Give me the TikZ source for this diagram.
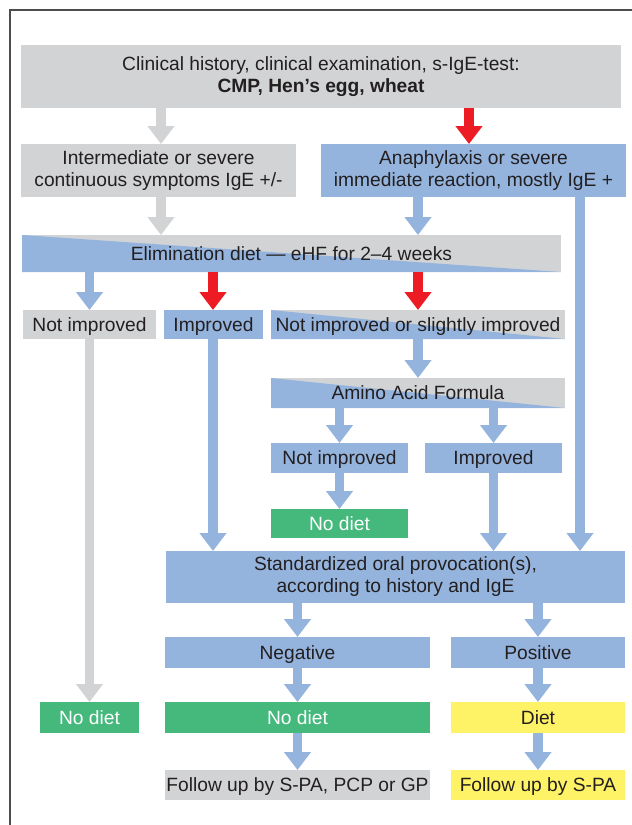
\documentclass[tikz,border=0pt]{standalone}
\usepackage{fontspec}
\setmainfont{Liberation Sans}
\usetikzlibrary{arrows.meta}
\definecolor{cgray}{HTML}{D1D3D4}
\definecolor{cblue}{HTML}{94B4DE}
\definecolor{cgreen}{HTML}{45B97C}
\definecolor{cyellow}{HTML}{FEF266}
\definecolor{cred}{HTML}{ED1C24}
\definecolor{ctext}{HTML}{231F20}
\definecolor{cframe}{HTML}{4D4D4F}
\begin{document}
\begin{tikzpicture}[x=1pt,y=-1pt,
  font=\fontsize{19.2}{22}\selectfont, text=ctext,
  bx/.style={anchor=north west, inner sep=0pt, outer sep=0pt, align=center},
  one/.style={text height=13.8pt, text depth=0pt},
  gbox/.style={bx, fill=cgray},
  bbox/.style={bx, fill=cblue},
  grbox/.style={bx, fill=cgreen, text=white},
  ybox/.style={bx, fill=cyellow},
  split/.style={bx, fill=cgray, path picture={
     \fill[cblue] (path picture bounding box.north west) -- (path picture bounding box.south west) -- (path picture bounding box.south east) -- cycle;}},
  arr/.style={line width=9.5pt, -{Triangle[width=26pt,length=18pt]}},
  garr/.style={arr, color=cgray},
  barr/.style={arr, color=cblue},
  rarr/.style={arr, color=cred}
]
\useasboundingbox (0,0) rectangle (632,825);
\draw[line width=2pt, cframe] (9.5,825) -- (9.5,10) -- (632,10);

% column coordinates
\coordinate (xa) at (161,0);
\coordinate (xb) at (469,0);
\coordinate (xc) at (418,0);
\coordinate (xd) at (580,0);
\coordinate (xe) at (213,0);

\node[gbox, minimum width=600, minimum height=63] (top) at (21,45)
  {Clinical history, clinical examination, s-IgE-test:\\\textbf{CMP, Hen’s egg, wheat}};
\node[gbox, minimum width=275, minimum height=53] (inter) at (21,144)
  {Intermediate or severe\\continuous symptoms IgE +/-};
\node[bbox, minimum width=305, minimum height=53] (ana) at (321,144)
  {Anaphylaxis or severe\\immediate reaction, mostly IgE +};
\node[split, one, minimum width=539, minimum height=37] (elim) at (22,235)
  {Elimination diet — eHF for 2–4 weeks};
\node[gbox, one, minimum width=133, minimum height=29] (ni1) at (23,310) {Not improved};
\node[bbox, one, minimum width=99, minimum height=29] (imp1) at (164,310) {Improved};
\node[split, one, minimum width=294, minimum height=29] (nis) at (271,310) {Not improved or slightly improved};
\node[split, one, minimum width=294, minimum height=30] (aaf) at (271,378) {Amino Acid Formula};
\node[bbox, one, minimum width=137, minimum height=30] (ni2) at (271,443) {Not improved};
\node[bbox, one, minimum width=137, minimum height=30] (imp2) at (425,443) {Improved};
\node[grbox, one, minimum width=137, minimum height=29] (nd1) at (271,509) {No diet};
\node[bbox, minimum width=459, minimum height=52] (std) at (166,551)
  {Standardized oral provocation(s),\\according to history and IgE};
\node[bbox, one, minimum width=265, minimum height=31] (neg) at (165,637) {Negative};
\node[bbox, one, minimum width=174, minimum height=31] (pos) at (451,637) {Positive};
\node[grbox, one, minimum width=99, minimum height=31] (nd2) at (40,702) {No diet};
\node[grbox, one, minimum width=265, minimum height=31] (nd3) at (165,702) {No diet};
\node[ybox, one, minimum width=174, minimum height=31] (diet) at (451,702) {Diet};
\node[gbox, one, minimum width=265, minimum height=30] (fu1) at (165,770) {Follow up by S-PA, PCP or GP};
\node[ybox, one, minimum width=174, minimum height=30] (fu2) at (451,770) {Follow up by S-PA};

% connectors
\draw[garr] (top.south -| xa) -- (inter.north -| xa);
\draw[rarr] (top.south -| xb) -- (ana.north -| xb);
\draw[garr] (inter.south -| xa) -- (elim.north -| xa);
\draw[barr] (ana.south -| xc) -- (elim.north -| xc);
\draw[barr] (ana.south -| xd) -- (std.north -| xd);
\draw[barr] (elim.south -| ni1) -- (ni1.north);
\draw[rarr] (elim.south -| xe) -- (imp1.north -| xe);
\draw[rarr] (elim.south -| xc) -- (nis.north -| xc);
\draw[garr] (ni1.south) -- (nd2.north);
\draw[barr] (imp1.south -| xe) -- (std.north -| xe);
\draw[barr] (nis.south -| xc) -- (aaf.north -| xc);
\draw[barr] (aaf.south -| ni2) -- (ni2.north);
\draw[barr] (aaf.south -| imp2) -- (imp2.north);
\draw[barr] (ni2.south) -- (nd1.north);
\draw[barr] (imp2.south) -- (std.north -| imp2);
\draw[barr] (std.south -| neg) -- (neg.north);
\draw[barr] (std.south -| pos) -- (pos.north);
\draw[barr] (neg.south) -- (nd3.north);
\draw[barr] (pos.south) -- (diet.north);
\draw[barr] (nd3.south) -- (fu1.north);
\draw[barr] (diet.south) -- (fu2.north);
\end{tikzpicture}
\end{document}
